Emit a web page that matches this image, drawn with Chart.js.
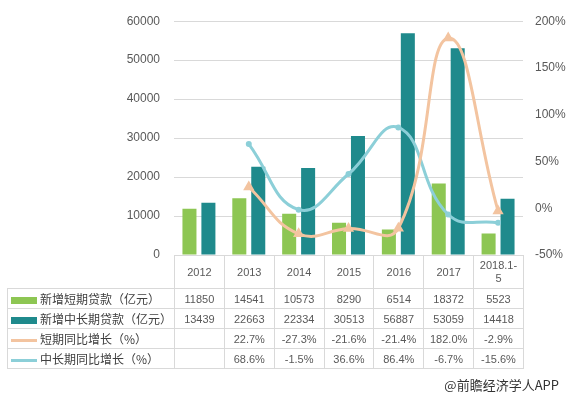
<!DOCTYPE html>
<html>
<head>
<meta charset="utf-8">
<script src="https://cdn.jsdelivr.net/npm/chart.js@4/dist/chart.umd.min.js"></script>
<style>
  body { margin: 0; background: #fff; }
  #wrap { position: relative; width: 567px; height: 396px; font-family: "Liberation Sans", "Noto Sans CJK SC", sans-serif; }
  #chart { position: absolute; left: 0; top: 0; }
  #tbl { position: absolute; border-collapse: collapse; table-layout: fixed; color: #595959; font-size: 11px; }
  #tbl td { border: 1px solid #d9d9d9; text-align: center; padding: 0; height: 19px; }
  #tbl tr.head td { height: 32px; white-space: pre-line; line-height: 13px; }
  #tbl tr.head td.blank { border-top: none; border-left: none; }
  #tbl td.name { text-align: left; font-size: 12px; color: #404040; font-family: "Noto Sans CJK SC", sans-serif; white-space: nowrap; }
  .sw { display: inline-block; vertical-align: middle; margin: 0 3px 0 3px; position: relative; width: 26px; }
  #foot { position: absolute; right: 8px; top: 375px; font-size: 13px; color: #333; font-family: "Noto Sans CJK SC", sans-serif; }
</style>
</head>
<body>
<div id="wrap">
  <canvas id="chart" width="567" height="396"></canvas>
  <table id="tbl"></table>
  <div id="foot">@前瞻经济学人APP</div>
</div>
<script>
const years = ['2012', '2013', '2014', '2015', '2016', '2017', '2018.1-5'];
const shortLoans = [11850, 14541, 10573, 8290, 6514, 18372, 5523];
const longLoans = [13439, 22663, 22334, 30513, 56887, 53059, 14418];
const shortGrowth = [null, 22.7, -27.3, -21.6, -21.4, 182.0, -2.9];
const longGrowth = [null, 68.6, -1.5, 36.6, 86.4, -6.7, -15.6];

const names = ['新增短期贷款（亿元）', '新增中长期贷款（亿元）', '短期同比增长（%）', '中长期同比增长（%）'];
const colors = ['#8dc653', '#1f8a8c', '#f3c4a0', '#8ccfd8'];

const chart = new Chart(document.getElementById('chart').getContext('2d'), {
  type: 'bar',
  data: {
    labels: years,
    datasets: [
      { label: names[0], data: shortLoans, backgroundColor: colors[0], yAxisID: 'y', order: 2,
        categoryPercentage: 0.76, barPercentage: 0.74 },
      { label: names[1], data: longLoans, backgroundColor: colors[1], yAxisID: 'y', order: 2,
        categoryPercentage: 0.76, barPercentage: 0.74 },
      { type: 'line', label: names[2], data: shortGrowth, borderColor: colors[2], backgroundColor: colors[2],
        yAxisID: 'y1', order: 0, tension: 0.45, spanGaps: true, borderWidth: 3,
        pointStyle: 'triangle', pointRadius: 3.5 },
      { type: 'line', label: names[3], data: longGrowth, borderColor: colors[3], backgroundColor: colors[3],
        yAxisID: 'y1', order: 1, tension: 0.45, spanGaps: true, borderWidth: 3,
        pointStyle: 'circle', pointRadius: 1.5 }
    ]
  },
  options: {
    responsive: false,
    animation: false,
    layout: { padding: { top: 15, bottom: 141, left: 0, right: 0 } },
    plugins: { legend: { display: false }, tooltip: { enabled: false } },
    scales: {
      x: { display: false, offset: true },
      y: {
        position: 'left', min: 0, max: 60000,
        ticks: { stepSize: 10000, color: '#595959', font: { size: 12, family: 'Liberation Sans' }, padding: 14,
                 callback: v => String(v) },
        grid: { color: '#d9d9d9', drawTicks: false },
        border: { display: false },
        afterFit: s => { s.width = 174; }
      },
      y1: {
        position: 'right', min: -50, max: 200,
        ticks: { stepSize: 50, color: '#595959', font: { size: 12, family: 'Liberation Sans' }, padding: 12,
                 callback: v => v + '%' },
        grid: { display: false, drawTicks: false },
        border: { display: false },
        afterFit: s => { s.width = 44; }
      }
    }
  }
});

// data table under the plot, columns taken from the x scale
const xs = chart.scales.x;
const area = chart.chartArea;
const colW = xs.width / years.length;
const tbl = document.getElementById('tbl');
tbl.style.left = '7px';
tbl.style.top = area.bottom + 'px';
tbl.style.width = (area.left - 7 + colW * years.length) + 'px';

let html = '<colgroup><col style="width:' + (area.left - 7) + 'px">';
years.forEach(() => { html += '<col style="width:' + colW + 'px">'; });
html += '</colgroup>';
html += '<tr class="head"><td class="blank"></td>' + years.map(y => '<td>' + y.replace('-', '-\n') + '</td>').join('') + '</tr>';

function swatch(i) {
  if (i < 2) return '<span class="sw" style="height:7px;background:' + colors[i] + '"></span>';
  return '<span class="sw" style="height:3px;background:' + colors[i] + '"></span>';
}
const rows = [shortLoans, longLoans, shortGrowth, longGrowth];
rows.forEach((r, i) => {
  html += '<tr><td class="name">' + swatch(i) + names[i] + '</td>';
  r.forEach(v => {
    let t = '';
    if (v !== null) t = i < 2 ? String(v) : v.toFixed(1) + '%';
    html += '<td>' + t + '</td>';
  });
  html += '</tr>';
});
tbl.innerHTML = html;
</script>
</body>
</html>
